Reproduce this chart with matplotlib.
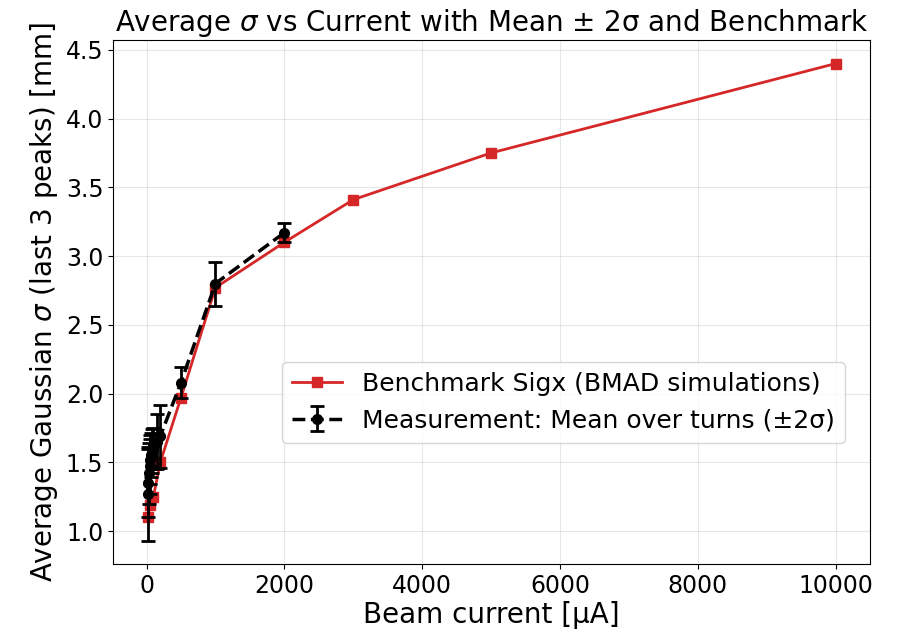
import matplotlib
matplotlib.use("Agg")
import matplotlib.pyplot as plt

# Benchmark (BMAD simulations)
bench_current = [20, 50, 100, 200, 500, 1000, 2000, 3000, 5000, 10000]
bench_sigma = [1.10, 1.19, 1.25, 1.50, 1.97, 2.77, 3.10, 3.41, 3.75, 4.40]

# Measurement: mean over turns with 2-sigma errors
meas_current = [15, 25, 35, 45, 55, 65, 80, 100, 150, 200, 500, 1000, 2000]
meas_sigma = [1.27, 1.35, 1.42, 1.47, 1.52, 1.55, 1.58, 1.60, 1.65, 1.69, 2.08, 2.80, 3.17]
meas_err2 = [0.34, 0.25, 0.22, 0.20, 0.18, 0.16, 0.16, 0.15, 0.20, 0.23, 0.11, 0.16, 0.07]

fig = plt.figure(figsize=(8.98, 6.3), dpi=100)
ax = fig.add_axes([0.126, 0.104, 0.843, 0.833])

ax.plot(bench_current, bench_sigma, color="#d62728", marker="s", markersize=7,
        linewidth=2, label="Benchmark Sigx (BMAD simulations)")
ax.errorbar(meas_current, meas_sigma, yerr=meas_err2, color="black", fmt="o--",
            markersize=7, linewidth=2.5, elinewidth=2, capsize=5, capthick=2,
            label="Measurement: Mean over turns (±2σ)")

ax.set_title(r"Average $\sigma$ vs Current with Mean ± 2σ and Benchmark", fontsize=20)
ax.set_xlabel("Beam current [µA]", fontsize=20, labelpad=2)
ax.set_ylabel(r"Average Gaussian $\sigma$ (last 3 peaks) [mm]", fontsize=20)
ax.tick_params(labelsize=17)
ax.grid(True, alpha=0.3)
ax.legend(fontsize=18, loc="lower right", bbox_to_anchor=(0.967, 0.232),
          borderaxespad=0)

fig.savefig("out.png", dpi=100)
